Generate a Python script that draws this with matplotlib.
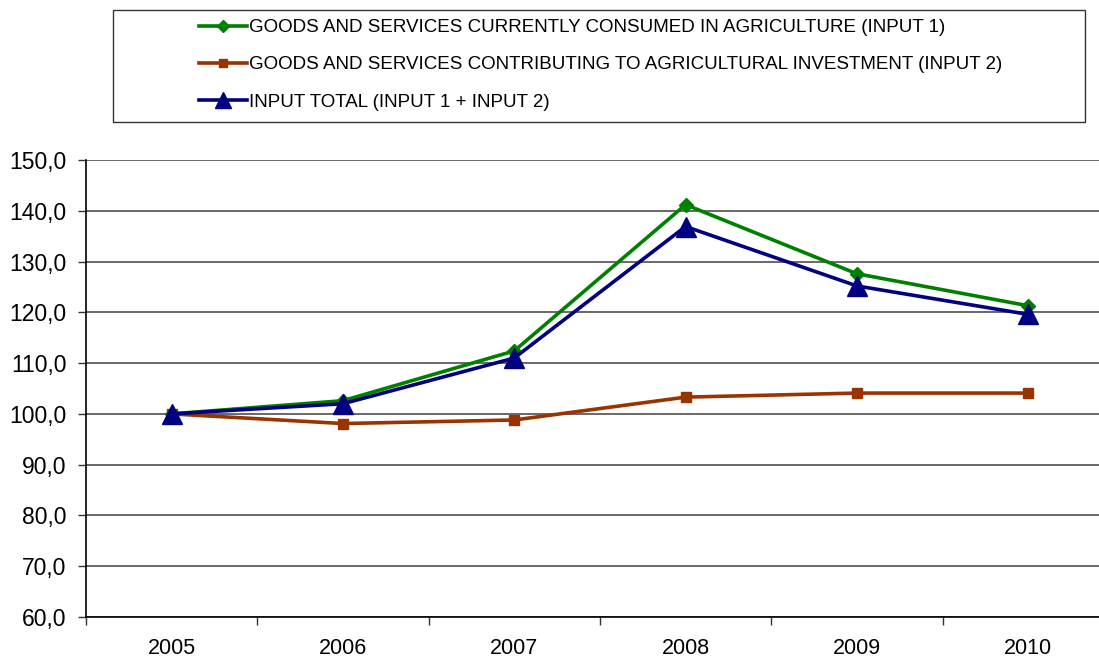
import matplotlib
matplotlib.use("Agg")
import matplotlib.pyplot as plt
from matplotlib.patches import Rectangle
from matplotlib.ticker import FixedLocator, FuncFormatter

plt.rcParams['font.family'] = ['Liberation Sans', 'DejaVu Sans']

years = ['2005', '2006', '2007', '2008', '2009', '2010']
input1 = [100.0, 102.6, 112.4, 141.2, 127.6, 121.3]
input2 = [100.0, 98.1, 98.8, 103.3, 104.1, 104.1]
total = [100.0, 102.0, 111.0, 136.9, 125.2, 119.6]
labels = ['GOODS AND SERVICES CURRENTLY CONSUMED IN AGRICULTURE (INPUT 1)',
          'GOODS AND SERVICES CONTRIBUTING TO AGRICULTURAL INVESTMENT (INPUT 2)',
          'INPUT TOTAL (INPUT 1 + INPUT 2)']

W, H = 1099, 659
fig = plt.figure(figsize=(W/100, H/100), dpi=100)
left_px, right_px, top_px, bot_px = 86, 86 + 6*171.3, 160, 617
ax = fig.add_axes([left_px/W, 1 - bot_px/H, (right_px-left_px)/W, (bot_px-top_px)/H])

x = list(range(len(years)))
l1, = ax.plot(x, input1, color='#008000', lw=2.6, marker='D', ms=7.5, zorder=4)
l2, = ax.plot(x, input2, color='#993300', lw=2.6, marker='s', ms=7.5, zorder=3)
l3, = ax.plot(x, total, color='#000080', lw=2.6, marker='^', ms=14, zorder=5)

ax.set_xlim(-0.5, len(years) - 0.5)
ax.set_ylim(60, 150)
ax.set_yticks(range(60, 151, 10))
ax.yaxis.set_major_formatter(FuncFormatter(lambda v, p: f"{v:.1f}".replace('.', ',')))
ax.set_xticks(x)
ax.set_xticklabels(years)
ax.xaxis.set_minor_locator(FixedLocator([i - 0.5 for i in range(len(years) + 1)]))
ax.tick_params(axis='x', which='major', length=0, pad=15, labelsize=15.5)
ax.tick_params(axis='x', which='minor', length=6, width=1, direction='out', color='#333333')
ax.tick_params(axis='y', length=6, width=1, direction='out', labelsize=16.5, pad=8, color='#333333')
ax.grid(axis='y', color='#404040', lw=1.1)
ax.set_axisbelow(True)
for s in ['top', 'right']:
    ax.spines[s].set_visible(False)
for s in ['left', 'bottom']:
    ax.spines[s].set_color('black')
    ax.spines[s].set_linewidth(1.2)

# legend box
fig.patches.append(Rectangle((113/W, 1 - 122/H), (1085-113)/W, (122-10)/H,
                             transform=fig.transFigure, fill=False, ec='#333333', lw=1.0))
fig.legend([l1, l2, l3], labels, loc='upper left', bbox_to_anchor=(192/W, 1 - 12.5/H),
           frameon=False, fontsize=13.5, handlelength=2.6, handletextpad=0.1,
           labelspacing=1.07, borderaxespad=0, borderpad=0.35, markerscale=0.85)

fig.savefig('out.png', dpi=100)
